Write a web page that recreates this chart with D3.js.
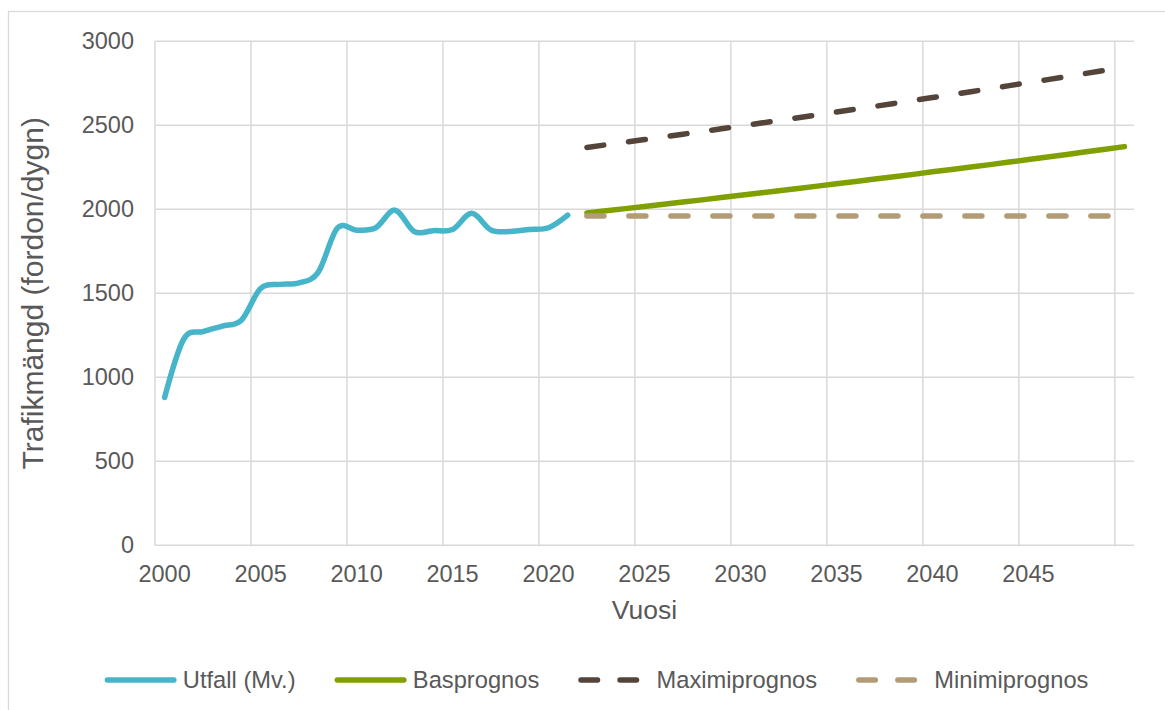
<!DOCTYPE html>
<html>
<head>
<meta charset="utf-8">
<script src="https://cdn.jsdelivr.net/npm/d3@7"></script>
<style>
  body { margin: 0; background: #fff; }
  svg { display: block; font-family: "Liberation Sans", Arial, sans-serif; }
</style>
</head>
<body>
<svg id="chart" width="1165" height="710"></svg>
<script>
// Category axis: one slot per year
const categories = d3.range(2000, 2051);
const xTickLabels = [2000, 2005, 2010, 2015, 2020, 2025, 2030, 2035, 2040, 2045];
const yTicks = [0, 500, 1000, 1500, 2000, 2500, 3000];

// Measured traffic (annual average)
const utfallYears = d3.range(2000, 2022);
const utfall = [880, 1228, 1272, 1305, 1340, 1528, 1553, 1562, 1625, 1888, 1876, 1890,
                1995, 1868, 1873, 1880, 1976, 1877, 1868, 1880, 1890, 1965];

// Forecasts
const prognosYears = d3.range(2022, 2051);
const basprognos = [1978, 1991, 2004, 2017, 2030, 2043, 2056, 2070, 2083, 2097, 2110, 2124,
                    2138, 2152, 2166, 2180, 2194, 2208, 2223, 2237, 2252, 2266, 2281, 2296,
                    2311, 2326, 2342, 2357, 2373];
const maximiprognos = [2368, 2384, 2399, 2415, 2431, 2447, 2463, 2479, 2496, 2512, 2529, 2545,
                       2562, 2579, 2596, 2613, 2630, 2648, 2665, 2683, 2700, 2718, 2736, 2754,
                       2772, 2790, 2809, 2827, 2845];
const minimiprognos = [1960, 1960, 1960, 1960, 1960, 1960, 1960, 1960, 1960, 1960, 1960, 1960,
                       1960, 1960, 1960, 1960, 1960, 1960, 1960, 1960, 1960, 1960, 1960, 1960,
                       1960, 1960, 1960, 1960, 1960];

const seriesNames = ["Utfall (Mv.)", "Basprognos", "Maximiprognos", "Minimiprognos"];

const svg = d3.select("#chart");
const textColor = "#595959";
const gridColor = "#d9d9d9";
const lineW = 5.5;

const plot = { left: 155, right: 1134, top: 41.3, bottom: 545.3 };

// Outer chart frame
svg.append("rect")
  .attr("x", 8.5).attr("y", 11.5)
  .attr("width", 1170).attr("height", 710)
  .attr("fill", "#fff").attr("stroke", gridColor).attr("stroke-width", 1.3);

const x = d3.scaleBand().domain(categories).range([plot.left, plot.right]).padding(0);
const xc = d => x(d) + x.bandwidth() / 2;
const y = d3.scaleLinear().domain([0, 3000]).range([plot.bottom, plot.top]);

// Grid
const grid = svg.append("g").attr("stroke", gridColor).attr("stroke-width", 1.5);
grid.selectAll("line.h").data(yTicks).join("line")
  .attr("x1", plot.left).attr("x2", plot.right)
  .attr("y1", d => y(d)).attr("y2", d => y(d));
grid.selectAll("line.v").data(categories.filter(c => c % 5 === 0)).join("line")
  .attr("x1", d => x(d)).attr("x2", d => x(d))
  .attr("y1", plot.top).attr("y2", plot.bottom);

// Axes
const xAxis = svg.append("g")
  .attr("transform", `translate(0,${plot.bottom})`)
  .call(d3.axisBottom(x).tickValues(xTickLabels).tickSize(0).tickPadding(20));
xAxis.select(".domain").remove();
xAxis.selectAll("text").attr("fill", textColor)
  .style("font-size", "23.5px").style("font-family", "Liberation Sans, Arial, sans-serif");

const yAxis = svg.append("g")
  .attr("transform", `translate(${plot.left},0)`)
  .call(d3.axisLeft(y).tickValues(yTicks).tickFormat(d3.format("d")).tickSize(0).tickPadding(21));
yAxis.select(".domain").remove();
yAxis.selectAll("text").attr("fill", textColor)
  .style("font-size", "23.5px").style("font-family", "Liberation Sans, Arial, sans-serif");

// Axis titles
svg.append("text")
  .attr("x", (plot.left + plot.right) / 2).attr("y", 619)
  .attr("text-anchor", "middle").attr("fill", textColor)
  .style("font-size", "26.5px").text("Vuosi");
svg.append("text")
  .attr("transform", `translate(43,${(plot.top + plot.bottom) / 2}) rotate(-90)`)
  .attr("text-anchor", "middle").attr("fill", textColor)
  .style("font-size", "30px").text("Trafikmängd (fordon/dygn)");

// Series
const styles = [
  { color: "#46b4c9", dash: null, smooth: true },
  { color: "#80a000", dash: null, smooth: false },
  { color: "#54443a", dash: "17 25", smooth: false },
  { color: "#b19c76", dash: "17 25", smooth: false }
];
const seriesData = [
  utfallYears.map((yr, i) => [yr, utfall[i]]),
  prognosYears.map((yr, i) => [yr, basprognos[i]]),
  prognosYears.map((yr, i) => [yr, maximiprognos[i]]),
  prognosYears.map((yr, i) => [yr, minimiprognos[i]])
];

seriesData.forEach((data, i) => {
  const st = styles[i];
  const line = d3.line()
    .x(d => xc(d[0])).y(d => y(d[1]))
    .curve(st.smooth ? d3.curveCardinal.tension(0) : d3.curveLinear);
  svg.append("path")
    .attr("d", line(data))
    .attr("fill", "none")
    .attr("stroke", st.color)
    .attr("stroke-width", lineW)
    .attr("stroke-linecap", "round")
    .attr("stroke-linejoin", "round")
    .attr("stroke-dasharray", st.dash);
});

// Legend, centred under the plot
const legend = svg.append("g");
const legendY = 680;
const sampleLen = 66.5, sampleGap = 9, itemGap = 39;
const items = seriesNames.map((name, i) => {
  const g = legend.append("g");
  g.append("line")
    .attr("x1", 2.75).attr("x2", 2.75 + sampleLen)
    .attr("y1", legendY).attr("y2", legendY)
    .attr("stroke", styles[i].color).attr("stroke-width", lineW)
    .attr("stroke-linecap", "round")
    .attr("stroke-dasharray", styles[i].dash ? "16.5 22.5" : null);
  const t = g.append("text")
    .attr("x", 2.75 + sampleLen + sampleGap).attr("y", legendY + 8.4)
    .attr("fill", textColor).style("font-size", "23.7px").text(name);
  const w = 2.75 + sampleLen + sampleGap + t.node().getComputedTextLength();
  return { g, w };
});
const total = d3.sum(items, d => d.w) + itemGap * (items.length - 1);
let cx = 596.5 - total / 2;
items.forEach(it => {
  it.g.attr("transform", `translate(${cx},0)`);
  cx += it.w + itemGap;
});
</script>
</body>
</html>
